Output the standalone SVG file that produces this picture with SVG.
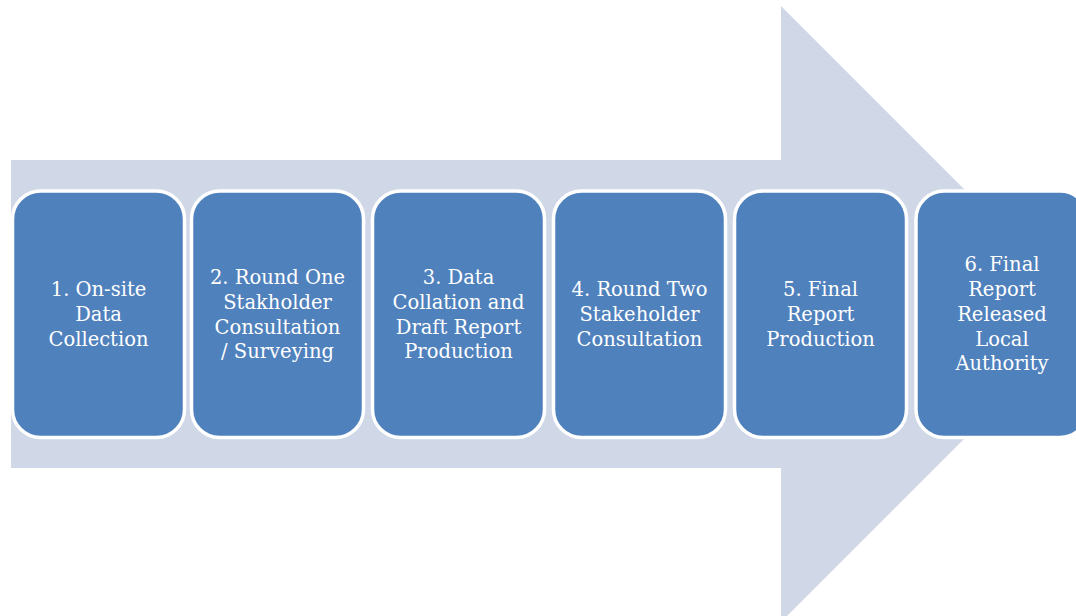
<svg xmlns="http://www.w3.org/2000/svg" width="1076" height="616" viewBox="0 0 1076 616">
  <style>
    .step { fill: #4F81BD; stroke: #FFFFFF; stroke-width: 3.5; }
    .label { fill: #FFFFFF; font-family: "DejaVu Serif", "Liberation Serif", serif; font-size: 19.5px; text-anchor: middle; }
  </style>
  <rect width="1076" height="616" fill="#FFFFFF"/>
  <!-- background process arrow -->
  <g id="connectors">
    <path d="M11 160 H781 V6 L1089 314 L781 622 V468 H11 Z" fill="#D0D8E8"/>
  </g>
  <g id="step1">
    <rect class="step" x="12.5" y="191" width="172" height="246.5" rx="28"/>
    <text class="label"><tspan x="98.5" y="296">1. On-site</tspan><tspan x="98.5" y="321">Data</tspan><tspan x="98.5" y="346">Collection</tspan></text>
  </g>
  <g id="step2">
    <rect class="step" x="191.5" y="191" width="172" height="246.5" rx="28"/>
    <text class="label"><tspan x="277.5" y="284">2. Round One</tspan><tspan x="277.5" y="309">Stakholder</tspan><tspan x="277.5" y="334">Consultation</tspan><tspan x="277.5" y="358">/ Surveying</tspan></text>
  </g>
  <g id="step3">
    <rect class="step" x="372.5" y="191" width="172" height="246.5" rx="28"/>
    <text class="label"><tspan x="458.5" y="284">3. Data</tspan><tspan x="458.5" y="309">Collation and</tspan><tspan x="458.5" y="334">Draft Report</tspan><tspan x="458.5" y="358">Production</tspan></text>
  </g>
  <g id="step4">
    <rect class="step" x="553.5" y="191" width="172" height="246.5" rx="28"/>
    <text class="label"><tspan x="639.5" y="296">4. Round Two</tspan><tspan x="639.5" y="321">Stakeholder</tspan><tspan x="639.5" y="346">Consultation</tspan></text>
  </g>
  <g id="step5">
    <rect class="step" x="734.5" y="191" width="172" height="246.5" rx="28"/>
    <text class="label"><tspan x="820.5" y="296">5. Final</tspan><tspan x="820.5" y="321">Report</tspan><tspan x="820.5" y="346">Production</tspan></text>
  </g>
  <g id="step6">
    <rect class="step" x="916" y="191" width="172" height="246.5" rx="28"/>
    <text class="label"><tspan x="1002" y="271">6. Final</tspan><tspan x="1002" y="296">Report</tspan><tspan x="1002" y="321">Released</tspan><tspan x="1002" y="346">Local</tspan><tspan x="1002" y="370">Authority</tspan></text>
  </g>
</svg>
